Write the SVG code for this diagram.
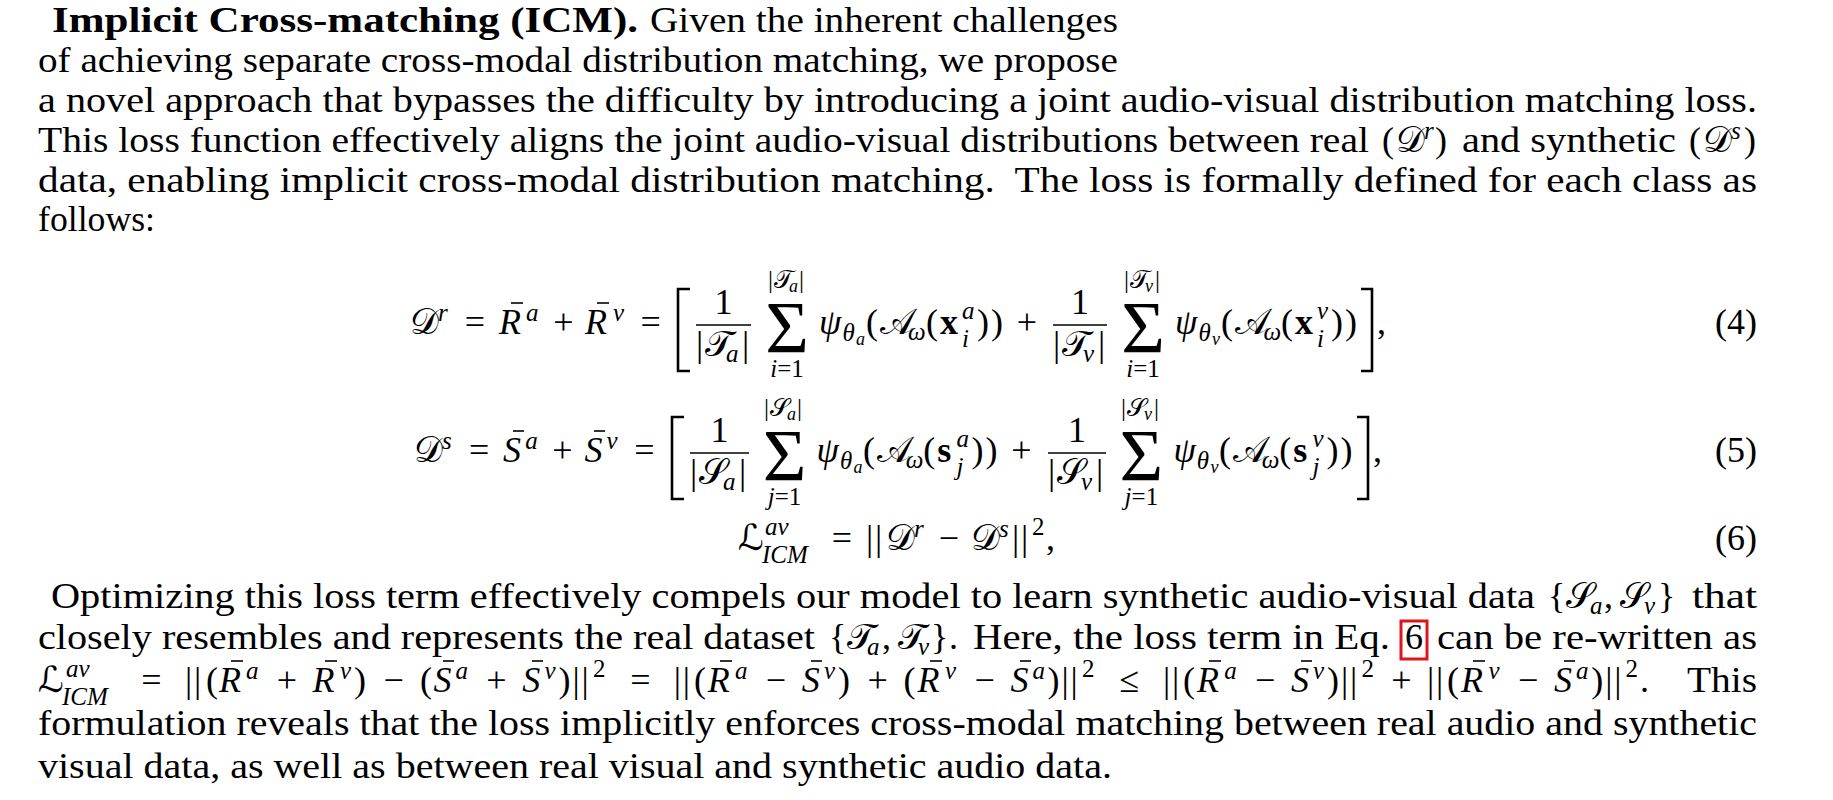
<svg xmlns="http://www.w3.org/2000/svg" width="1833" height="800" viewBox="0 0 1833 800">
<style>
text { font-family: "Liberation Serif", "DejaVu Serif", serif; fill: #000; font-size: 36px; }
.bd { font-weight: bold; }
.i { font-style: italic; }
.sc { font-size: 25px; }
.ss { font-size: 18px; }
.cal { font-family: "DejaVu Serif", "DejaVu Sans", "Noto Sans", serif; font-style: normal; }
.xb { font-weight: bold; }
.sig { font-size: 75px; }
.ln { stroke: #000; stroke-width: 1.6; fill: none; }
.fr { stroke: #000; stroke-width: 1.5; fill: none; }
.br { stroke: #000; stroke-width: 2.6; fill: none; }
.op { text-anchor: middle; }
</style>
<rect x="0" y="0" width="1833" height="800" fill="#fff"/>

<g id="para-top">
<text class="bd" x="52" y="32" textLength="586" lengthAdjust="spacingAndGlyphs">Implicit Cross-matching (ICM).</text>
<text x="650" y="32" textLength="468" lengthAdjust="spacingAndGlyphs">Given the inherent challenges</text>
<text x="38" y="72" textLength="1080" lengthAdjust="spacingAndGlyphs">of achieving separate cross-modal distribution matching, we propose</text>
<text x="38" y="112" textLength="1719" lengthAdjust="spacingAndGlyphs">a novel approach that bypasses the difficulty by introducing a joint audio-visual distribution matching loss.</text>
<text x="38" y="152" textLength="1331" lengthAdjust="spacingAndGlyphs">This loss function effectively aligns the joint audio-visual distributions between real</text>
<text><tspan x="1382" y="152">(</tspan><tspan class="cal" x="1396" y="152">𝒟</tspan><tspan class="sc i" x="1424" y="139">r</tspan><tspan x="1435" y="152">)</tspan></text>
<text x="1462" y="152" textLength="214" lengthAdjust="spacingAndGlyphs">and synthetic</text>
<text><tspan x="1689" y="152">(</tspan><tspan class="cal" x="1703" y="152">𝒟</tspan><tspan class="sc i" x="1731" y="139">s</tspan><tspan x="1744" y="152">)</tspan></text>
<text x="38" y="192" textLength="1719" lengthAdjust="spacingAndGlyphs" xml:space="preserve">data, enabling implicit cross-modal distribution matching.  The loss is formally defined for each class as</text>
<text x="38" y="231" textLength="117" lengthAdjust="spacingAndGlyphs">follows:</text>
</g>

<g id="eq4">
<text><tspan class="cal" x="410" y="334">𝒟</tspan><tspan class="sc i" x="438" y="321">r</tspan></text>
<text class="op" x="475" y="334">=</text>
<text><tspan class="i" x="499" y="334">R</tspan><tspan class="sc i" x="526" y="321">a</tspan></text>
<line class="ln" x1="511" y1="303" x2="523" y2="303"/>
<text class="op" x="563.5" y="334">+</text>
<text><tspan class="i" x="585" y="334">R</tspan><tspan class="sc i" x="613" y="321">v</tspan></text>
<line class="ln" x1="597" y1="303" x2="609" y2="303"/>
<text class="op" x="650.7" y="334">=</text>
<path class="br" d="M690,289 H678 V371 H690"/>
<line class="fr" x1="696" y1="325" x2="751" y2="325"/>
<text class="op" x="723.5" y="314">1</text>
<text><tspan x="696" y="356">|</tspan><tspan class="cal" x="705" y="356">𝒯</tspan><tspan class="sc i" x="726" y="362">a</tspan><tspan x="742" y="356">|</tspan></text>
<text class="sig op" x="787" y="353">Σ</text>
<text><tspan class="sc" x="768" y="288">|</tspan><tspan class="cal sc" x="774" y="288">𝒯</tspan><tspan class="ss i" x="789" y="292">a</tspan><tspan class="sc" x="799" y="288">|</tspan></text>
<text class="sc op" x="787" y="377"><tspan class="i">i</tspan>=1</text>
<text><tspan class="i" x="819" y="334">ψ</tspan><tspan class="sc i" x="842.5" y="341">θ</tspan><tspan class="ss i" x="856" y="345">a</tspan><tspan x="866" y="334">(</tspan><tspan class="cal" x="880" y="334">𝒜</tspan><tspan class="sc i" x="908" y="340">ω</tspan><tspan x="926" y="334">(</tspan><tspan class="xb" x="940" y="334">x</tspan><tspan class="sc i" x="962" y="319">a</tspan><tspan class="sc i" x="962" y="347">i</tspan><tspan x="977" y="334">)</tspan><tspan x="991" y="334">)</tspan></text>
<text class="op" x="1026.8" y="334">+</text>
<line class="fr" x1="1053" y1="325" x2="1107" y2="325"/>
<text class="op" x="1080" y="314">1</text>
<text><tspan x="1053" y="356">|</tspan><tspan class="cal" x="1062" y="356">𝒯</tspan><tspan class="sc i" x="1083" y="362">v</tspan><tspan x="1098" y="356">|</tspan></text>
<text class="sig op" x="1143" y="353">Σ</text>
<text><tspan class="sc" x="1124" y="288">|</tspan><tspan class="cal sc" x="1130" y="288">𝒯</tspan><tspan class="ss i" x="1145" y="292">v</tspan><tspan class="sc" x="1155" y="288">|</tspan></text>
<text class="sc op" x="1143" y="377"><tspan class="i">i</tspan>=1</text>
<text><tspan class="i" x="1175" y="334">ψ</tspan><tspan class="sc i" x="1198.5" y="341">θ</tspan><tspan class="ss i" x="1212" y="345">v</tspan><tspan x="1221" y="334">(</tspan><tspan class="cal" x="1235" y="334">𝒜</tspan><tspan class="sc i" x="1263.5" y="340">ω</tspan><tspan x="1281" y="334">(</tspan><tspan class="xb" x="1295" y="334">x</tspan><tspan class="sc i" x="1317" y="319">v</tspan><tspan class="sc i" x="1317" y="347">i</tspan><tspan x="1331" y="334">)</tspan><tspan x="1345" y="334">)</tspan></text>
<path class="br" d="M1361,289 H1372 V371 H1361"/>
<text x="1377" y="334">,</text>
<text x="1757" y="334" text-anchor="end">(4)</text>
</g>

<g id="eq5">
<text><tspan class="cal" x="414" y="462">𝒟</tspan><tspan class="sc i" x="442" y="449">s</tspan></text>
<text class="op" x="479.2" y="462">=</text>
<text><tspan class="i" x="503" y="462">S</tspan><tspan class="sc i" x="525.3" y="449">a</tspan></text>
<line class="ln" x1="513" y1="431" x2="524" y2="431"/>
<text class="op" x="562.4" y="462">+</text>
<text><tspan class="i" x="584.4" y="462">S</tspan><tspan class="sc i" x="606.5" y="449">v</tspan></text>
<line class="ln" x1="594" y1="431" x2="605" y2="431"/>
<text class="op" x="644.5" y="462">=</text>
<path class="br" d="M684,417 H672 V499 H684"/>
<line class="fr" x1="690" y1="453" x2="749" y2="453"/>
<text class="op" x="719.5" y="442">1</text>
<text><tspan x="690" y="484">|</tspan><tspan class="cal" x="699" y="484">𝒮</tspan><tspan class="sc i" x="723" y="490">a</tspan><tspan x="739" y="484">|</tspan></text>
<text class="sig op" x="784.5" y="481">Σ</text>
<text><tspan class="sc" x="764" y="416">|</tspan><tspan class="cal sc" x="770" y="416">𝒮</tspan><tspan class="ss i" x="787" y="420">a</tspan><tspan class="sc" x="797" y="416">|</tspan></text>
<text class="sc op" x="784.5" y="505"><tspan class="i">j</tspan>=1</text>
<text><tspan class="i" x="816.5" y="462">ψ</tspan><tspan class="sc i" x="840" y="469">θ</tspan><tspan class="ss i" x="853.5" y="473">a</tspan><tspan x="863" y="462">(</tspan><tspan class="cal" x="877" y="462">𝒜</tspan><tspan class="sc i" x="905.7" y="468">ω</tspan><tspan x="923.2" y="462">(</tspan><tspan class="xb" x="937.2" y="462">s</tspan><tspan class="sc i" x="956.4" y="447">a</tspan><tspan class="sc i" x="956.4" y="475">j</tspan><tspan x="971.5" y="462">)</tspan><tspan x="985.5" y="462">)</tspan></text>
<text class="op" x="1021.5" y="462">+</text>
<line class="fr" x1="1048" y1="453" x2="1106" y2="453"/>
<text class="op" x="1077" y="442">1</text>
<text><tspan x="1048" y="484">|</tspan><tspan class="cal" x="1057" y="484">𝒮</tspan><tspan class="sc i" x="1081" y="490">v</tspan><tspan x="1096" y="484">|</tspan></text>
<text class="sig op" x="1141.4" y="481">Σ</text>
<text><tspan class="sc" x="1121" y="416">|</tspan><tspan class="cal sc" x="1127" y="416">𝒮</tspan><tspan class="ss i" x="1144" y="420">v</tspan><tspan class="sc" x="1154" y="416">|</tspan></text>
<text class="sc op" x="1141.4" y="505"><tspan class="i">j</tspan>=1</text>
<text><tspan class="i" x="1173.4" y="462">ψ</tspan><tspan class="sc i" x="1196.8" y="469">θ</tspan><tspan class="ss i" x="1210.5" y="473">v</tspan><tspan x="1219.1" y="462">(</tspan><tspan class="cal" x="1233.1" y="462">𝒜</tspan><tspan class="sc i" x="1261.8" y="468">ω</tspan><tspan x="1279.3" y="462">(</tspan><tspan class="xb" x="1293.3" y="462">s</tspan><tspan class="sc i" x="1312.5" y="447">v</tspan><tspan class="sc i" x="1312.5" y="475">j</tspan><tspan x="1326.5" y="462">)</tspan><tspan x="1340.5" y="462">)</tspan></text>
<path class="br" d="M1357,417 H1368 V499 H1357"/>
<text x="1373" y="462">,</text>
<text x="1757" y="462" text-anchor="end">(5)</text>
</g>

<g id="eq6">
<text><tspan class="cal" x="738" y="550">ℒ</tspan><tspan class="sc i" x="765" y="535">av</tspan><tspan class="sc i" x="762" y="563">ICM</tspan></text>
<text class="op" x="842" y="550">=</text>
<text><tspan x="866" y="550">|</tspan><tspan x="875" y="550">|</tspan><tspan class="cal" x="886" y="550">𝒟</tspan><tspan class="sc i" x="914" y="537">r</tspan></text>
<text class="op" x="949" y="550">−</text>
<text><tspan class="cal" x="971" y="550">𝒟</tspan><tspan class="sc i" x="999" y="537">s</tspan><tspan x="1012" y="550">|</tspan><tspan x="1021" y="550">|</tspan><tspan class="sc" x="1032" y="535">2</tspan><tspan x="1046" y="550">,</tspan></text>
<text x="1757" y="550" text-anchor="end">(6)</text>
</g>

<g id="para-bottom">
<text x="51" y="608" textLength="1484" lengthAdjust="spacingAndGlyphs">Optimizing this loss term effectively compels our model to learn synthetic audio-visual data</text>
<text><tspan x="1548" y="608">{</tspan><tspan class="cal" x="1566" y="608">𝒮</tspan><tspan class="sc i" x="1590" y="614">a</tspan><tspan x="1604" y="608">,</tspan><tspan class="cal" x="1620" y="608">𝒮</tspan><tspan class="sc i" x="1644" y="614">v</tspan><tspan x="1658" y="608">}</tspan></text>
<text x="1692" y="608" textLength="65" lengthAdjust="spacingAndGlyphs">that</text>

<text x="38" y="649" textLength="777" lengthAdjust="spacingAndGlyphs">closely resembles and represents the real dataset</text>
<text><tspan x="829" y="649">{</tspan><tspan class="cal" x="847" y="649">𝒯</tspan><tspan class="sc i" x="867" y="655">a</tspan><tspan x="882" y="649">,</tspan><tspan class="cal" x="898" y="649">𝒯</tspan><tspan class="sc i" x="918" y="655">v</tspan><tspan x="931" y="649">}</tspan><tspan x="949" y="649">.</tspan></text>
<text x="973" y="649" textLength="417" lengthAdjust="spacingAndGlyphs">Here, the loss term in Eq.</text>
<rect x="1401" y="621" width="26" height="38" fill="none" stroke="#e3131b" stroke-width="3"/>
<text x="1405" y="649">6</text>
<text x="1437" y="649" textLength="320" lengthAdjust="spacingAndGlyphs">can be re-written as</text>

<text><tspan class="cal" x="38" y="692">ℒ</tspan><tspan class="sc i" x="66" y="677">av</tspan><tspan class="sc i" x="62" y="705">ICM</tspan></text>
<text class="op" x="151.5" y="692">=</text>
<text><tspan x="185" y="692">|</tspan><tspan x="194" y="692">|</tspan><tspan x="206" y="692">(</tspan><tspan class="i" x="219" y="692">R</tspan><tspan class="sc i" x="246" y="679">a</tspan></text>
<line class="ln" x1="231" y1="661" x2="243" y2="661"/>
<text class="op" x="286.8" y="692">+</text>
<text><tspan class="i" x="312.6" y="692">R</tspan><tspan class="sc i" x="340" y="679">v</tspan><tspan x="354" y="692">)</tspan></text>
<line class="ln" x1="325" y1="661" x2="337" y2="661"/>
<text class="op" x="393.7" y="692">−</text>
<text><tspan x="420" y="692">(</tspan><tspan class="i" x="433.5" y="692">S</tspan><tspan class="sc i" x="455.6" y="679">a</tspan></text>
<line class="ln" x1="443" y1="661" x2="454" y2="661"/>
<text class="op" x="496.5" y="692">+</text>
<text><tspan class="i" x="522.3" y="692">S</tspan><tspan class="sc i" x="544.4" y="679">v</tspan><tspan x="558.4" y="692">)</tspan><tspan x="572.4" y="692">|</tspan><tspan x="581.4" y="692">|</tspan><tspan class="sc" x="593" y="677">2</tspan></text>
<line class="ln" x1="532" y1="661" x2="543" y2="661"/>
<text class="op" x="640.3" y="692">=</text>
<text><tspan x="673.8" y="692">|</tspan><tspan x="682.8" y="692">|</tspan><tspan x="694" y="692">(</tspan><tspan class="i" x="707.8" y="692">R</tspan><tspan class="sc i" x="735" y="679">a</tspan></text>
<line class="ln" x1="720" y1="661" x2="732" y2="661"/>
<text class="op" x="776" y="692">−</text>
<text><tspan class="i" x="801.8" y="692">S</tspan><tspan class="sc i" x="824" y="679">v</tspan><tspan x="838" y="692">)</tspan></text>
<line class="ln" x1="811" y1="661" x2="822" y2="661"/>
<text class="op" x="877.7" y="692">+</text>
<text><tspan x="903.5" y="692">(</tspan><tspan class="i" x="917.5" y="692">R</tspan><tspan class="sc i" x="945" y="679">v</tspan></text>
<line class="ln" x1="930" y1="661" x2="942" y2="661"/>
<text class="op" x="984.6" y="692">−</text>
<text><tspan class="i" x="1010.4" y="692">S</tspan><tspan class="sc i" x="1032.5" y="679">a</tspan><tspan x="1047.6" y="692">)</tspan><tspan x="1061.6" y="692">|</tspan><tspan x="1070.6" y="692">|</tspan><tspan class="sc" x="1082" y="677">2</tspan></text>
<line class="ln" x1="1020" y1="661" x2="1031" y2="661"/>
<text class="op" x="1129.5" y="692">≤</text>
<text><tspan x="1163" y="692">|</tspan><tspan x="1172" y="692">|</tspan><tspan x="1183" y="692">(</tspan><tspan class="i" x="1197" y="692">R</tspan><tspan class="sc i" x="1224.3" y="679">a</tspan></text>
<line class="ln" x1="1209" y1="661" x2="1221" y2="661"/>
<text class="op" x="1265.2" y="692">−</text>
<text><tspan class="i" x="1291" y="692">S</tspan><tspan class="sc i" x="1313.1" y="679">v</tspan><tspan x="1327.1" y="692">)</tspan><tspan x="1341.1" y="692">|</tspan><tspan x="1350.1" y="692">|</tspan><tspan class="sc" x="1361.5" y="677">2</tspan></text>
<line class="ln" x1="1301" y1="661" x2="1312" y2="661"/>
<text class="op" x="1401.3" y="692">+</text>
<text><tspan x="1427.1" y="692">|</tspan><tspan x="1436.1" y="692">|</tspan><tspan x="1447.1" y="692">(</tspan><tspan class="i" x="1461.1" y="692">R</tspan><tspan class="sc i" x="1488.4" y="679">v</tspan></text>
<line class="ln" x1="1473" y1="661" x2="1485" y2="661"/>
<text class="op" x="1528.2" y="692">−</text>
<text><tspan class="i" x="1554" y="692">S</tspan><tspan class="sc i" x="1576.1" y="679">a</tspan><tspan x="1591.2" y="692">)</tspan><tspan x="1605.2" y="692">|</tspan><tspan x="1614.2" y="692">|</tspan><tspan class="sc" x="1625.5" y="677">2</tspan><tspan x="1640" y="692">.</tspan></text>
<line class="ln" x1="1564" y1="661" x2="1575" y2="661"/>
<text x="1687" y="692" textLength="70" lengthAdjust="spacingAndGlyphs">This</text>

<text x="38" y="735" textLength="1719" lengthAdjust="spacingAndGlyphs">formulation reveals that the loss implicitly enforces cross-modal matching between real audio and synthetic</text>
<text x="38" y="778" textLength="1074" lengthAdjust="spacingAndGlyphs">visual data, as well as between real visual and synthetic audio data.</text>
</g>
</svg>
